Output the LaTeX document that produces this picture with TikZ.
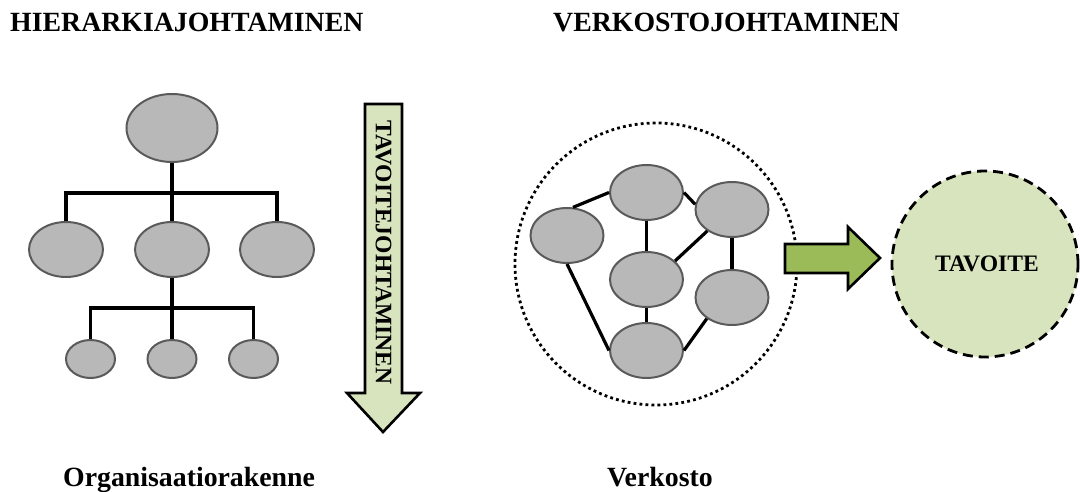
\documentclass[tikz,border=0pt]{standalone}
\usepackage{fontspec}
\setmainfont{Liberation Serif}
\usetikzlibrary{shapes.geometric}
\definecolor{nodegray}{RGB}{184,184,184}
\definecolor{nodeedge}{RGB}{90,90,90}
\definecolor{palegreen}{RGB}{215,228,189}
\definecolor{leafgreen}{RGB}{155,187,89}
\begin{document}
\begin{tikzpicture}[x=1pt,y=-1pt,
  unit/.style={ellipse,draw=nodeedge,line width=2pt,fill=nodegray,inner sep=0pt},
  big/.style={unit,minimum width=91pt,minimum height=68pt},
  mid/.style={unit,minimum width=74pt,minimum height=55pt},
  small/.style={unit,minimum width=49pt,minimum height=38pt},
  net/.style={unit,minimum width=73pt,minimum height=55pt},
  tree/.style={line width=3.6pt,black},
  link/.style={line width=3.2pt,black},
  heading/.style={font=\bfseries\fontsize{27.8}{32}\selectfont,inner sep=0pt},
  inner/.style={font=\bfseries\fontsize{23.6}{27}\selectfont,inner sep=0pt},
  blockarrow/.style={draw=black,line width=2.6pt,line join=miter}
]
\useasboundingbox (0,0) rectangle (1080,492);

% headings and captions
\node[heading,anchor=base west] (t1) at (10,31.5) {HIERARKIAJOHTAMINEN};
\node[heading,anchor=base west] (t2) at (553,31.5) {VERKOSTOJOHTAMINEN};
\node[heading,anchor=base west] (c1) at (63,486) {Organisaatiorakenne};
\node[heading,anchor=base west] (c2) at (607,486) {Verkosto};

% organisation chart
\node[big] (top) at (172,128) {};
\node[mid] (m1) at (66,249.5) {};
\node[mid] (m2) at (172,249.5) {};
\node[mid] (m3) at (277,249.5) {};
\node[small] (s1) at (90.5,359) {};
\node[small] (s2) at (172,359) {};
\node[small] (s3) at (253.5,359) {};
\coordinate (j1) at (172,193);
\coordinate (j2) at (172,308);
\draw[tree] (top.south) -- (j1);
\draw[tree] (m1.north) |- (j1) -| (m3.north);
\draw[tree] (j1) -- (m2.north);
\draw[tree] (m2.south) -- (j2);
\draw[tree] (s1.north) |- (j2) -| (s3.north);
\draw[tree] (j2) -- (s2.north);

% downward goal arrow
\path[blockarrow,fill=palegreen]
  (365,104) -- (402,104) -- (402,393) -- (420,393) -- (383,432)
  -- (347,393) -- (365,393) -- cycle;
\node[inner,rotate=-90] (goalflow) at (383.5,252.5) {TAVOITEJOHTAMINEN};

% network
\node[draw=black,circle,line width=2.8pt,dash pattern=on 2.8pt off 3.2pt,
      minimum size=282pt,inner sep=0pt] (cloud) at (656,264) {};
\node[net] (a) at (567,235.5) {};
\node[net] (b) at (646.5,192.5) {};
\node[net] (c) at (732,209.5) {};
\node[net] (d) at (646.5,279.5) {};
\node[net] (e) at (732,297.5) {};
\node[net] (f) at (646.5,350.5) {};
\draw[link] (a.78) -- (b.west);
\draw[link] (b.east) -- (c.172);
\draw[link] (b) -- (d);
\draw[link] (c.221) -- (d.33);
\draw[link] (c) -- (e);
\draw[link] (d) -- (f);
\draw[link] (e.220) -- (f.east);
\draw[link] (a.south) -- (f.west);

% arrow towards the goal
\path[blockarrow,fill=leafgreen]
  (785,244) -- (848,244) -- (848,227) -- (880,258) -- (848,289)
  -- (848,273) -- (785,273) -- cycle;

% goal
\node[circle,draw=black,line width=2.8pt,dash pattern=on 10pt off 6pt,
      fill=palegreen,minimum size=186pt,inner sep=0pt] (goal) at (985,264) {};
\node[inner,anchor=base] (goaltext) at (987,271) {TAVOITE};
\end{tikzpicture}
\end{document}
